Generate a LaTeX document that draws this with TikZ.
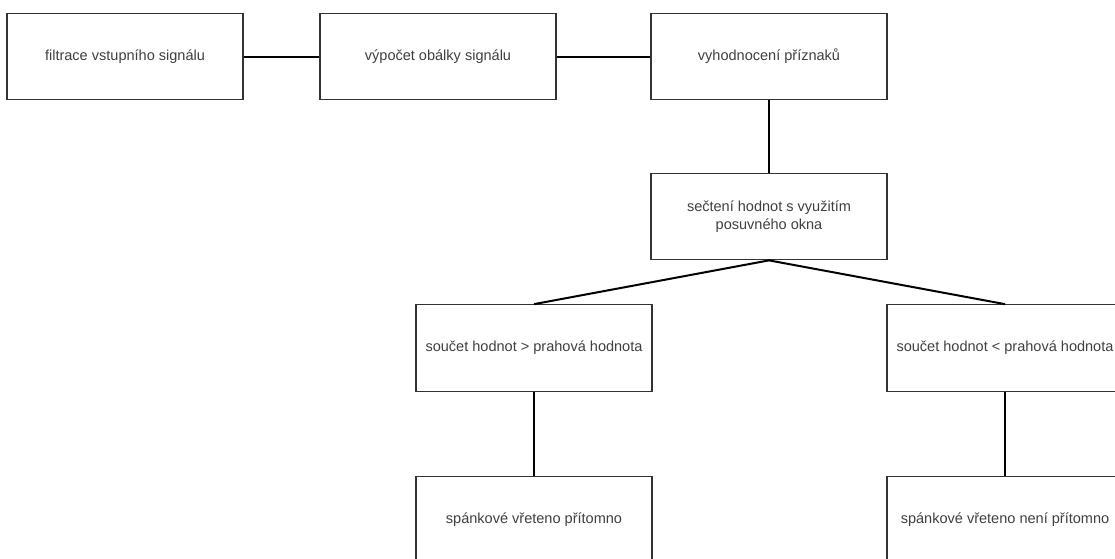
\documentclass[tikz,border=0pt]{standalone}
\usepackage{fontspec}
\setmainfont{Liberation Sans}

\begin{document}
\begin{tikzpicture}[x=0.75pt, y=-0.75pt,
		box/.style={draw=black!80, line width=0.8pt, fill=white, minimum width=177pt, minimum height=65pt, inner sep=0pt, align=center, text=black!75, font=\fontsize{10.9}{14}\selectfont},
		spoj/.style={draw=black, line width=1.5pt}]
		\useasboundingbox (0,0) rectangle (1115,558);
		\node[box] (filtrace) at (125,56.5) {filtrace vstupního signálu};
		\node[box] (obalka) at (438,56.5) {výpočet obálky signálu};
		\node[box] (priznaky) at (769,56.5) {vyhodnocení příznaků};
		\node[box] (secteni) at (769,216.5) {sečtení hodnot s využitím\\posuvného okna};
		\node[box] (vetsi) at (534,348) {součet hodnot > prahová hodnota};
		\node[box] (mensi) at (1005,348) {součet hodnot < prahová hodnota};
		\node[box] (pritomno) at (534,520) {spánkové vřeteno přítomno};
		\node[box] (nepritomno) at (1005,520) {spánkové vřeteno není přítomno};
		\draw[spoj] (filtrace) -- (obalka);
		\draw[spoj] (obalka) -- (priznaky);
		\draw[spoj] (priznaky) -- (secteni);
		\draw[spoj] (secteni.south) -- (vetsi.north);
		\draw[spoj] (secteni.south) -- (mensi.north);
		\draw[spoj] (vetsi) -- (pritomno);
		\draw[spoj] (mensi) -- (nepritomno);
\end{tikzpicture}
\end{document}
